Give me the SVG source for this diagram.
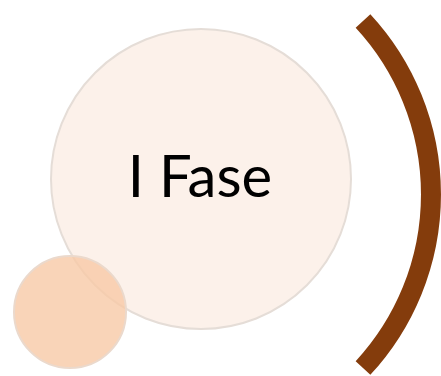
<svg xmlns="http://www.w3.org/2000/svg" width="441" height="376" viewBox="0 0 441 376">
<style>
.big{fill:#FCF1EA;stroke:#E5DDD7;stroke-width:2}
.small{fill:#F8C9A6;fill-opacity:0.8;stroke:#EBD9CC;stroke-width:2}
.arc{fill:none;stroke:#843C0C;stroke-width:20}
.lbl{font-family:Lato,"Open Sans","Liberation Sans",sans-serif;font-size:58px;fill:#000}
</style>
<rect width="441" height="376" fill="#fff"/>
<g id="phase1">
<circle class="big" cx="201" cy="179" r="150"/>
<text class="lbl" x="200" y="197" text-anchor="middle">I Fase</text>
</g>
<g id="dot">
<circle class="small" cx="70" cy="312" r="56"/>
</g>
<g id="connectors">
<path class="arc" d="M363,21 A255.4,255.4 0 0 1 363,368"/>
</g>
</svg>
